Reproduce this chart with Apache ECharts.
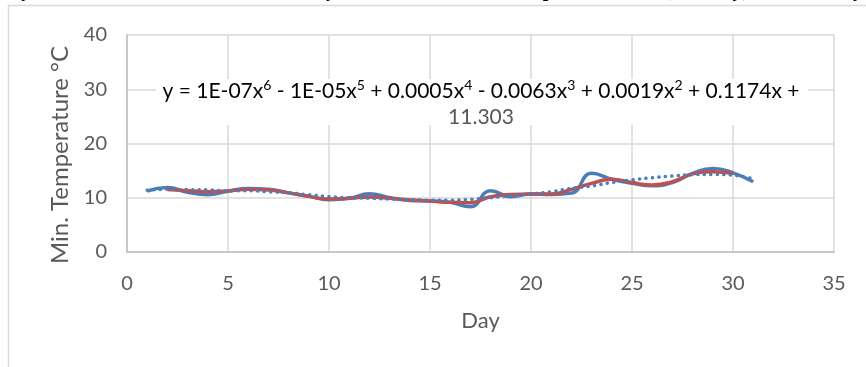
<!DOCTYPE html>
<html>
<head>
<meta charset="utf-8">
<script src="https://cdn.jsdelivr.net/npm/echarts@6/dist/echarts.min.js"></script>
<style>html,body{margin:0;padding:0;background:#fff;}#c{width:866px;height:367px;}</style>
</head>
<body>
<div id="c"></div>
<script>
// Data
var days = [1,2,3,4,5,6,7,8,9,10,11,12,13,14,15,16,17,18,19,20,21,22,23,24,25,26,27,28,29,30,31];
var minTemp = [11.24,11.9,11.0,10.55,11.2,11.7,11.55,10.9,10.25,9.65,9.9,10.75,10.0,9.5,9.4,9.15,8.35,11.3,10.2,10.7,10.6,10.85,14.5,13.4,12.65,12.2,12.8,14.5,15.4,14.6,12.95];
var maDays = [2,3,4,5,6,7,8,9,10,11,12,13,14,15,16,17,18,19,20,21,22,23,24,25,26,27,28,29,30];
var movingAvg = [11.5,11.3,11.1,11.25,11.55,11.45,10.9,10.25,9.75,9.9,10.15,9.9,9.6,9.4,9.15,9.1,10.2,10.6,10.7,10.7,11.55,12.65,13.4,12.8,12.35,12.95,14.4,14.8,14.5];
var trend = [11.4,11.55,11.5,11.45,11.3,11.3,11.1,10.9,10.55,10.2,10.0,9.9,9.75,9.65,9.55,9.55,9.7,10.0,10.4,10.7,11.1,11.75,12.15,12.8,13.3,13.7,14.0,14.25,14.3,14.15,13.5];
var xTicks = {min: 0, max: 35, interval: 5};
var yTicks = {min: 0, max: 40, interval: 10};
var titleText = 'Figure 3: Polynomial trend estimation of the daily minimum recorded temperature data (January) for the study area, 2019';
var yName = 'Min. Temperature \u00B0C';
var xName = 'Day';

function pairs(xs, ys){ return xs.map(function(x,i){ return [x, ys[i]]; }); }

var font = 'Lato';
var chart = echarts.init(document.getElementById('c'), null, {renderer:'canvas'});
chart.setOption({
  animation: false,
  backgroundColor: '#fff',
  grid: {left: 127, right: 32, top: 35, bottom: 115, containLabel: false},
  xAxis: {
    type: 'value', min: xTicks.min, max: xTicks.max, interval: xTicks.interval,
    name: xName, nameLocation: 'middle', nameGap: 58,
    nameTextStyle: {fontFamily: font, fontSize: 22, color: '#595959'},
    axisLine: {show: true, lineStyle: {color: '#bfbfbf', width: 1.5}},
    axisTick: {show: false},
    axisLabel: {fontFamily: font, fontSize: 20, color: '#595959', margin: 22},
    splitLine: {show: true, lineStyle: {color: '#d9d9d9', width: 1.5}}
  },
  yAxis: {
    type: 'value', min: yTicks.min, max: yTicks.max, interval: yTicks.interval,
    axisLine: {show: true, lineStyle: {color: '#bfbfbf', width: 1.5}},
    axisTick: {show: false},
    axisLabel: {fontFamily: font, fontSize: 20, color: '#595959', margin: 20},
    splitLine: {show: true, lineStyle: {color: '#d9d9d9', width: 1.5}}
  },
  series: [
    {type: 'line', data: pairs(days, minTemp), smooth: 0.5, symbol: 'none',
     lineStyle: {color: '#4a7ebb', width: 3.5}, z: 2},
    {type: 'line', data: pairs(maDays, movingAvg), smooth: 0.5, symbol: 'none',
     lineStyle: {color: '#c0504d', width: 3.5}, z: 3},
    {type: 'line', data: pairs(days, trend), smooth: 0.5, symbol: 'none',
     lineStyle: {color: '#4a7ebb', width: 3.5, type: [0.1, 6.4], cap: 'round'}, z: 4}
  ],
  graphic: [
    {type: 'rect', silent: true, shape: {x: 8.5, y: 5.5, width: 1200, height: 1200},
     style: {fill: 'none', stroke: '#d9d9d9', lineWidth: 1.5}, z: -1},
    {type: 'text', silent: true, x: 433, y: 1,
     style: {text: titleText, fontFamily: 'Liberation Serif', fontWeight: 'bold', fontSize: 20,
             fill: '#000', textAlign: 'center', textVerticalAlign: 'bottom'}},
    {type: 'text', silent: true, x: 60, y: 155, rotation: Math.PI / 2,
     style: {text: yName, fontFamily: font, fontSize: 24, fill: '#595959',
             textAlign: 'center', textVerticalAlign: 'middle'}},
    {type: 'rect', silent: true, left: 156, top: 79, shape: {x: 0, y: 0, width: 652, height: 46},
     style: {fill: '#fff'}, z: 10},
    {type: 'text', silent: true, x: 481, y: 91, z: 11,
     style: {
       text: '{n|y = 1E-07x}{s|6}{n| - 1E-05x}{s|5}{n| + 0.0005x}{s|4}{n| - 0.0063x}{s|3}{n| + 0.0019x}{s|2}{n| + 0.1174x +}',
       textAlign: 'center', textVerticalAlign: 'middle',
       rich: {
         n: {fontFamily: font, fontSize: 21, color: '#595959', lineHeight: 26},
         s: {fontFamily: font, fontSize: 14, color: '#595959', verticalAlign: 'top', lineHeight: 26}
       }
     }},
    {type: 'text', silent: true, x: 481, y: 117, z: 11,
     style: {text: '11.303', fontFamily: font, fontSize: 21, fill: '#595959',
             textAlign: 'center', textVerticalAlign: 'middle'}}
  ]
});
</script>
</body>
</html>
